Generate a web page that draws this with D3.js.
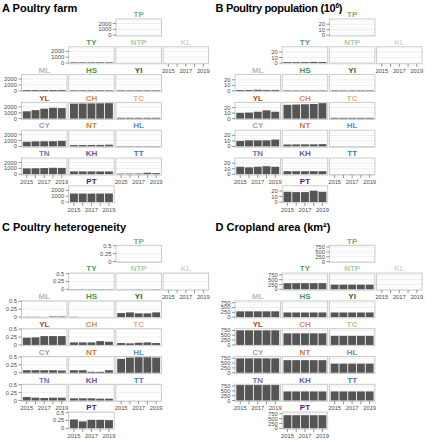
<!DOCTYPE html>
<html><head><meta charset="utf-8">
<script src="https://cdn.jsdelivr.net/npm/d3@7"></script>
<style>body{margin:0;background:#fff}svg{display:block;font-family:"Liberation Sans",Arial,Helvetica,sans-serif}</style>
</head><body><svg id="chart" width="427" height="440"></svg>
<script>
// ---------------- DATA ----------------
const years = [2015, 2016, 2017, 2018, 2019];
const xTickLabels = [2015, 2017, 2019];
const counties = ["TP","TY","NTP","KL","ML","HS","YI","YL","CH","TC","CY","NT","HL","TN","KH","TT","PT"];

// A: Poultry farm (count), one row per county (same order as counties)
const farmValues = [
  [0,0,0,0,0],                 // TP
  [110,110,110,115,115],       // TY
  [15,15,15,15,15],            // NTP
  null,                        // KL
  [140,140,145,145,145],       // ML
  [100,100,100,100,100],       // HS
  [90,90,90,90,90],            // YI
  [1250,1450,1700,1850,1800],  // YL
  [2560,2580,2600,2610,2640],  // CH
  [150,150,150,150,150],       // TC
  [800,860,880,890,950],       // CY
  [230,240,250,260,300],       // NT
  [60,60,60,60,60],            // HL
  [1000,1020,1050,1100,1080],  // TN
  [480,480,480,480,470],       // KH
  [100,110,120,250,180],       // TT
  [1450,1450,1440,1450,1460]   // PT
];
// B: Poultry population (10^6)
const popValues = [
  [0,0,0,0,0],
  [1.5,1.5,1.6,2.0,1.8],
  [0.2,0.2,0.2,0.2,0.2],
  null,
  [1.5,1.5,2.0,1.6,1.6],
  [0.8,0.8,0.8,0.8,0.8],
  [0.9,0.9,0.9,0.9,0.9],
  [10.5,11,12.5,15,12.5],
  [25,25.5,26,26.5,28],
  [1.5,1.5,1.5,1.5,1.5],
  [10,11,11,11,12.5],
  [3.5,3.7,3.8,3.8,4.2],
  [0.3,0.3,0.3,0.3,0.3],
  [13.5,12.5,13.5,14.5,13.5],
  [5.5,5.5,5.5,5.5,5.5],
  [0.4,0.4,0.4,0.4,0.4],
  [18.5,18,18,20.5,18.5]
];
// C: Poultry heterogeneity
const hetValues = [
  [0,0,0,0,0],
  [0.01,0.01,0.01,0.01,0.01],
  [0.005,0.005,0.01,0.005,0.01],
  null,
  [0.01,0.01,0.005,0.02,0.02],
  [0.01,0,0,0,0],
  [0.13,0.15,0.12,0.12,0.15],
  [0.23,0.24,0.28,0.28,0.28],
  [0.08,0.08,0.08,0.12,0.10],
  [0.06,0.05,0.07,0.08,0.06],
  [0.08,0.08,0.08,0.08,0.07],
  [0.08,0.08,0.03,0.03,0.08],
  [0.44,0.48,0.49,0.49,0.48],
  [0.11,0.09,0.08,0.09,0.09],
  [0.07,0.07,0.07,0.06,0.06],
  [0,0,0,0,0],
  [0.28,0.22,0.27,0.27,0.26]
];
// D: Cropland area (km2)
const cropValues = [
  [0,0,0,0,0],
  [320,320,320,320,320],
  [240,240,240,240,240],
  null,
  [300,300,300,300,300],
  [240,240,240,240,240],
  [240,240,240,240,240],
  [755,755,755,755,755],
  [600,600,600,600,600],
  [470,470,470,470,470],
  [745,745,745,745,745],
  [650,650,650,650,650],
  [470,470,470,470,470],
  [800,800,800,800,800],
  [470,470,470,470,470],
  [470,470,470,470,470],
  [680,680,680,680,680]
];
const farmTicks = [0,1000,2000];
const popTicks = [0,10,20];
const hetTicks = [0,0.25,0.5];
const cropTicks = [0,250,500,750];

// ---------------- LAYOUT / STYLE ----------------
const gridRow = [0,1,1,1,2,2,2,3,3,3,4,4,4,5,5,5,6];
const gridCol = [2,1,2,3,0,1,2,0,1,2,0,1,2,0,1,2,1];
const stripColors = ["#78b46e","#5a9e54","#a9cf9c","#cfdccc","#c6b4ae","#3f9a4b","#21682e",
  "#b5441a","#d48c56","#ddb08a","#9d9ccb","#d2792f","#5e90c2","#7b72b3","#6854a4","#3b7bbd","#4a2187"];

const panels = [
  {letter:"A", title:"Poultry farm", sup:null, ox:0, titleY:11.5, gridY:19, values:farmValues, ticks:farmTicks, ls:0},
  {letter:"B", title:"Poultry population (10", sup:"6", after:")", ox:213.5, titleY:11.5, gridY:19, values:popValues, ticks:popTicks, ls:-0.3},
  {letter:"C", title:"Poultry heterogeneity", sup:null, ox:0, titleY:231, gridY:245.3, values:hetValues, ticks:hetTicks, ls:0},
  {letter:"D", title:"Cropland area (km\u00B2)", sup:null, ox:213.5, titleY:231, gridY:245.3, values:cropValues, ticks:cropTicks, ls:0}
];

const X0 = 21.5, PITCH_X = 47.2, PW = 45.5;
const PITCH_Y = 27.8, PH = 17;

const svg = d3.select("#chart");

const x = d3.scaleBand().domain(years).range([0, PW]).paddingInner(0.1).paddingOuter(0.15);

panels.forEach(p => {
  const g = svg.append("g").attr("transform", `translate(${p.ox},0)`);
  const t = g.append("text").attr("x", 2).attr("y", p.titleY)
    .attr("font-size", 11).attr("font-weight", "bold").attr("fill", "#000")
    .attr("letter-spacing", p.ls);
  t.append("tspan").text(p.letter + " " + p.title);
  if (p.sup) {
    t.append("tspan").text(p.sup).attr("font-size", 6.5).attr("dy", -4);
    t.append("tspan").text(p.after).attr("dy", 4);
  }

  const all = p.values.filter(v => v).flat();
  const M = d3.max(all);
  const y = d3.scaleLinear().domain([-0.05 * M, 1.05 * M]).range([PH, 0]);
  const minor = [];
  const step = p.ticks[1] - p.ticks[0];
  p.ticks.forEach(tv => { const m = tv + step / 2; if (m < 1.05 * M) minor.push(m); });

  counties.forEach((c, i) => {
    const r = gridRow[i], col = gridCol[i];
    const px = X0 + col * PITCH_X, py = p.gridY + r * PITCH_Y;
    const pg = g.append("g").attr("transform", `translate(${px},${py})`);
    pg.append("rect").attr("width", PW).attr("height", PH).attr("fill", "#fff");
    // grid
    pg.selectAll(".mn").data(minor).enter().append("line")
      .attr("x1", 0).attr("x2", PW).attr("y1", d => y(d)).attr("y2", d => y(d))
      .attr("stroke", "#f0f0f0").attr("stroke-width", 0.4);
    pg.selectAll(".mj").data(p.ticks).enter().append("line")
      .attr("x1", 0).attr("x2", PW).attr("y1", d => y(d)).attr("y2", d => y(d))
      .attr("stroke", "#e3e3e3").attr("stroke-width", 0.6);
    // bars
    const vals = p.values[i];
    if (vals) {
      pg.selectAll(".bar").data(years.map((yr, k) => ({yr, v: vals[k]}))).enter().append("rect")
        .attr("x", d => x(d.yr)).attr("width", x.bandwidth())
        .attr("y", d => Math.min(y(d.v), y(0))).attr("height", d => Math.abs(y(0) - y(d.v)))
        .attr("fill", "#555555");
    }
    pg.append("rect").attr("width", PW).attr("height", PH).attr("fill", "none")
      .attr("stroke", "#c6c6c6").attr("stroke-width", 0.9);
    // strip
    pg.append("text").attr("x", PW / 2).attr("y", -1.8).attr("text-anchor", "middle")
      .attr("font-size", 8).attr("font-weight", "bold").attr("fill", stripColors[i]).text(c);

    // y axis on leftmost panel of row
    const leftmost = !counties.some((_, j) => gridRow[j] === r && gridCol[j] < col);
    if (leftmost) {
      const ay = pg.append("g");
      p.ticks.forEach(tv => {
        ay.append("line").attr("x1", -3).attr("x2", 0).attr("y1", y(tv)).attr("y2", y(tv))
          .attr("stroke", "#4d4d4d").attr("stroke-width", 0.6);
        ay.append("text").attr("x", -4.5).attr("y", y(tv)).attr("dy", "0.35em")
          .attr("text-anchor", "end").attr("font-size", 5.8).attr("fill", "#4d4d4d").text(String(tv));
      });
    }
    // x axis on bottom panel of column
    const bottom = !counties.some((_, j) => gridCol[j] === col && gridRow[j] > r);
    if (bottom) {
      const ax = pg.append("g").attr("transform", `translate(0,${PH})`);
      years.forEach(yr => {
        const cx = x(yr) + x.bandwidth() / 2;
        ax.append("line").attr("x1", cx).attr("x2", cx).attr("y1", 0).attr("y2", 3)
          .attr("stroke", "#4d4d4d").attr("stroke-width", 0.6);
      });
      xTickLabels.forEach(yr => {
        ax.append("text").attr("x", x(yr) + x.bandwidth() / 2).attr("y", 8.8)
          .attr("text-anchor", "middle").attr("font-size", 5.8).attr("fill", "#4d4d4d").text(yr);
      });
    }
  });
});
</script></body></html>
